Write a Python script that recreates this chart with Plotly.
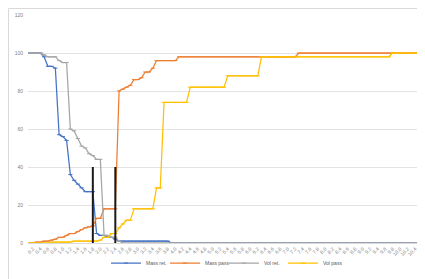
import plotly.graph_objects as go

categories = [
    "0.1", "0.2", "0.3", "0.4", "0.5", "0.6", "0.7", "0.8", "0.9", "1.0",
    "1.1", "1.2", "1.3", "1.4", "1.5", "1.6", "1.7", "1.8", "1.9", "2.0",
    "2.1", "2.2", "2.3", "2.4", "2.5", "2.6", "2.7", "2.8", "2.9", "3.0",
    "3.1", "3.2", "3.3", "3.4", "3.5", "3.6", "3.7", "3.8", "3.9", "4.0",
    "4.1", "4.2", "4.3", "4.4", "4.5", "4.6", "4.7", "4.8", "4.9", "5.0",
    "5.1", "5.2", "5.3", "5.4", "5.5", "5.6", "5.7", "5.8", "5.9", "6.0",
    "6.1", "6.2", "6.3", "6.4", "6.5", "6.6", "6.7", "6.8", "6.9", "7.0",
    "7.1", "7.2", "7.3", "7.4", "7.5", "7.6", "7.7", "7.8", "7.9", "8.0",
    "8.1", "8.2", "8.3", "8.4", "8.5", "8.6", "8.7", "8.8", "8.9", "9.0",
    "9.1", "9.2", "9.3", "9.4", "9.5", "9.6", "9.7", "9.8", "9.9", "10.0",
    "10.1", "10.2", "10.3", "10.4", "10.5",
]

mass_retained = [
    100, 100, 100, 100, 98, 93, 93, 92, 57, 56, 54, 36, 33, 31, 29,
    27, 27, 27, 5, 4, 4, 3, 3, 2, 1, 1, 1, 1, 1, 1,
    1, 1, 1, 1, 1, 1, 1, 1, 0, 0, 0, 0, 0, 0, 0,
    0, 0, 0, 0, 0, 0, 0, 0, 0, 0, 0, 0, 0, 0, 0,
    0, 0, 0, 0, 0, 0, 0, 0, 0, 0, 0, 0, 0, 0, 0,
    0, 0, 0, 0, 0, 0, 0, 0, 0, 0, 0, 0, 0, 0, 0,
    0, 0, 0, 0, 0, 0, 0, 0, 0, 0, 0, 0, 0, 0, 0,
]

mass_passing = [
    0, 0, 0.5, 0.5, 1, 1, 1.5, 2, 3, 3, 4, 5, 5, 6, 7,
    8, 8.5, 9, 13, 13, 18, 18, 18, 18, 80, 81, 82, 83, 86, 86,
    87, 90, 90, 92, 96, 96, 96, 96, 96, 96, 98, 98, 98, 98, 98,
    98, 98, 98, 98, 98, 98, 98, 98, 98, 98, 98, 98, 98, 98, 98,
    98, 98, 98, 98, 98, 98, 98, 98, 98, 98, 98, 98, 100, 100, 100,
    100, 100, 100, 100, 100, 100, 100, 100, 100, 100, 100, 100, 100, 100, 100,
    100, 100, 100, 100, 100, 100, 100, 100, 100, 100, 100, 100, 100, 100, 100,
]

vol_retained = [
    100, 100, 100, 100, 99, 98, 98, 98, 96, 95, 95, 60, 59, 55, 51,
    50, 47, 46, 44, 44, 4, 4, 3, 3, 1, 0, 0, 0, 0, 0,
    0, 0, 0, 0, 0, 0, 0, 0, 0, 0, 0, 0, 0, 0, 0,
    0, 0, 0, 0, 0, 0, 0, 0, 0, 0, 0, 0, 0, 0, 0,
    0, 0, 0, 0, 0, 0, 0, 0, 0, 0, 0, 0, 0, 0, 0,
    0, 0, 0, 0, 0, 0, 0, 0, 0, 0, 0, 0, 0, 0, 0,
    0, 0, 0, 0, 0, 0, 0, 0, 0, 0, 0, 0, 0, 0, 0,
]

vol_passing = [
    0, 0, 0, 0, 0, 0, 0.5, 0.5, 0.5, 0.5, 0.5, 0.5, 1, 1, 1,
    1, 1, 1, 1, 1.5, 3, 3, 5, 5, 8, 10, 12, 12, 18, 18,
    18, 18, 18, 18, 29, 29, 74, 74, 74, 74, 74, 74, 74, 82, 82,
    82, 82, 82, 82, 82, 82, 82, 82, 88, 88, 88, 88, 88, 88, 88,
    88, 88, 98, 98, 98, 98, 98, 98, 98, 98, 98, 98, 98, 98, 98,
    98, 98, 98, 98, 98, 98, 98, 98, 98, 98, 98, 98, 98, 98, 98,
    98, 98, 98, 98, 98, 98, 98, 100, 100, 100, 100, 100, 100, 100, 100,
]

series_names = ["Mass ret.", "Mass pass", "Vol ret.", "Vol pass"]
series_colors = ["#4472C4", "#ED7D31", "#A5A5A5", "#FFC000"]

marker_cats = ["1.8", "2.4"]
marker_tops = [40, 40]

y_ticks = [0, 20, 40, 60, 80, 100, 120]

fig = go.Figure()

for name, vals, col in zip(series_names,
                           [mass_retained, mass_passing, vol_retained, vol_passing],
                           series_colors):
    fig.add_trace(go.Scatter(
        x=categories, y=vals, name=name, mode="lines+markers",
        line=dict(color=col, width=1.25),
        marker=dict(symbol="line-ew", size=3, line=dict(color=col, width=1)),
    ))

for c, top in zip(marker_cats, marker_tops):
    fig.add_trace(go.Scatter(
        x=[c, c], y=[0, top], mode="lines", showlegend=False,
        line=dict(color="#1a1a1a", width=2), hoverinfo="skip",
    ))

fig.update_layout(
    width=417, height=271,
    margin=dict(l=20, r=5, t=7, b=36, autoexpand=False),
    paper_bgcolor="white", plot_bgcolor="white",
    font=dict(family="Liberation Sans, Arial, sans-serif", size=5, color="#7f7f7f"),
    legend=dict(orientation="h", x=0.5, xanchor="center", y=-0.088, yanchor="middle",
                font=dict(size=5, color="#595959"), itemwidth=30,
                entrywidth=14, entrywidthmode="pixels",
                bgcolor="rgba(0,0,0,0)", traceorder="normal"),
    shapes=[dict(type="rect", xref="paper", yref="paper",
                 x0=-0.0497, x1=1.05, y0=-0.3, y1=1.0285,
                 line=dict(color="#D9D9D9", width=1), fillcolor="rgba(0,0,0,0)",
                 layer="below")],
)

fig.update_xaxes(
    type="category", tickmode="array", tickvals=categories[1::2], ticktext=categories[1::2],
    tickangle=-45, tickfont=dict(size=5, color="#7f7f7f"), automargin=False,
    showgrid=False, showline=True, linecolor="#D9D9D9", linewidth=1,
    ticks="", range=[-0.3, len(categories) - 0.7],
)
fig.update_yaxes(
    range=[0, 120], tickvals=y_ticks, tickfont=dict(size=5, color="#7f7f7f"),
    showgrid=True, gridcolor="#E3E3E3", gridwidth=1, zeroline=False, automargin=False,
    showline=False, ticks="", ticklabelstandoff=4,
)

fig.write_html("out.html")
